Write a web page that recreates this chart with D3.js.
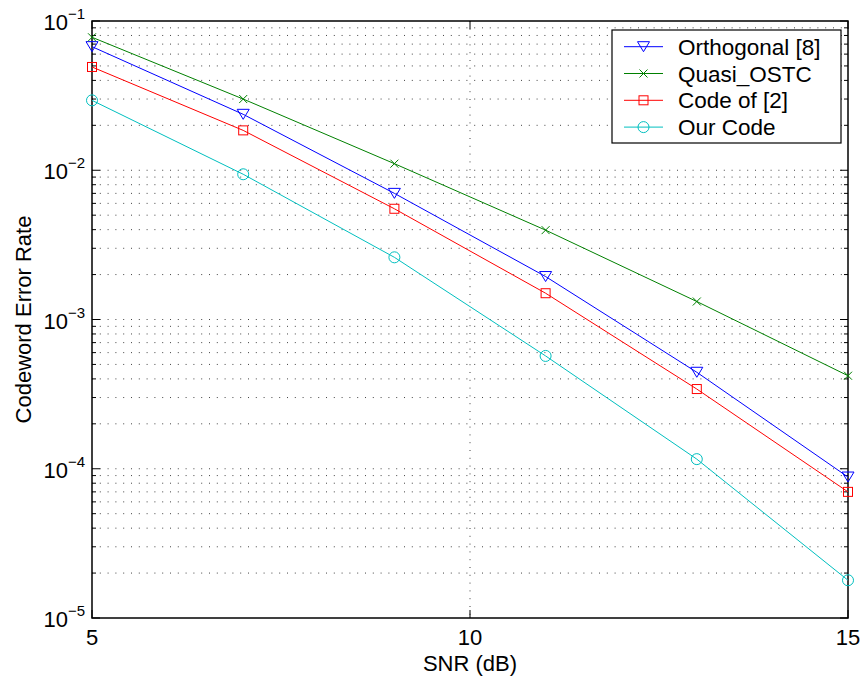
<!DOCTYPE html>
<html><head><meta charset="utf-8">
<script src="https://cdn.jsdelivr.net/npm/d3@7"></script>
<style>body{margin:0;background:#fff}text{font-family:"Liberation Sans",Arial,Helvetica,sans-serif}</style>
</head><body>
<svg id="c" width="865" height="690"></svg>
<script>
const snr = [5, 7, 9, 11, 13, 15];
const orthogonal = [0.0673, 0.0237, 0.0070, 0.00194, 4.43e-4, 8.8e-5];
const quasiOSTC = [0.0778, 0.0300, 0.01107, 0.00397, 1.32e-3, 4.2e-4];
const codeOf2 = [0.0492, 0.0185, 0.00552, 0.00150, 3.42e-4, 7.0e-5];
const ourCode = [0.0294, 0.0094, 0.00261, 5.7e-4, 1.16e-4, 1.79e-5];
const seriesNames = ["Orthogonal [8]", "Quasi_OSTC", "Code of [2]", "Our Code"];
const seriesColors = ["#0000ff", "#008000", "#ff0000", "#00bfbf"];
const seriesMarkers = ["tri", "x", "sq", "circ"];
const xTicks = [5, 10, 15];
const yDecades = [-5, -4, -3, -2, -1];

const svg = d3.select("#c");
const L = 92, R = 848, T = 21, B = 618;
const x = d3.scaleLinear().domain([5, 15]).range([L, R]);
const y = d3.scaleLog().domain([1e-5, 1e-1]).range([B, T]);

// grid
const gridVals = [];
for (let e = -5; e <= -2; e++) for (let m = 1; m <= 9; m++) { const v = m * Math.pow(10, e); if (v > 1.0001e-5 && v < 0.0999) gridVals.push(v); }
const g = svg.append("g");
g.selectAll("line.hg").data(gridVals).join("line")
  .attr("x1", L).attr("x2", R).attr("y1", d => y(d)).attr("y2", d => y(d))
  .attr("stroke", "#444").attr("stroke-width", 1).attr("stroke-dasharray", "1 6.8");
g.selectAll("line.vg").data([10]).join("line")
  .attr("x1", d => x(d)).attr("x2", d => x(d)).attr("y1", T).attr("y2", B)
  .attr("stroke", "#444").attr("stroke-width", 1).attr("stroke-dasharray", "1 6.8");

// ticks inward
const minorVals = [];
for (let e = -5; e < -1; e++) for (let m = 2; m <= 9; m++) minorVals.push(m * Math.pow(10, e));
const majorVals = yDecades.map(e => Math.pow(10, e));
const tk = svg.append("g").attr("stroke", "#000").attr("stroke-width", 1);
[[L, 1], [R, -1]].forEach(([x0, s]) => {
  tk.selectAll(null).data(minorVals).join("line").attr("x1", x0).attr("x2", x0 + s * 4).attr("y1", d => y(d)).attr("y2", d => y(d));
  tk.selectAll(null).data(majorVals).join("line").attr("x1", x0).attr("x2", x0 + s * 8).attr("y1", d => y(d)).attr("y2", d => y(d));
});
[[B, -1], [T, 1]].forEach(([y0, s]) => {
  tk.selectAll(null).data(xTicks).join("line").attr("x1", d => x(d)).attr("x2", d => x(d)).attr("y1", y0).attr("y2", y0 + s * 8);
});

// frame
svg.append("rect").attr("x", L).attr("y", T).attr("width", R - L).attr("height", B - T)
  .attr("fill", "none").attr("stroke", "#000").attr("stroke-width", 1.5);

// tick labels
svg.selectAll("text.xt").data(xTicks).join("text")
  .attr("x", d => x(d)).attr("y", 645).attr("text-anchor", "middle").attr("font-size", 22).text(d => d);
const yl = svg.selectAll("text.yt").data(yDecades).join("text")
  .attr("x", 85).attr("y", d => y(Math.pow(10, d)) + 9).attr("text-anchor", "end").attr("font-size", 22);
yl.append("tspan").text("10");
yl.append("tspan").attr("dy", -11).attr("font-size", 15).text(d => "\u2212" + (-d));

// axis titles
svg.append("text").attr("x", (L + R) / 2).attr("y", 671).attr("text-anchor", "middle").attr("font-size", 22).text("SNR (dB)");
svg.append("text").attr("transform", `translate(31,${(T + B) / 2}) rotate(-90)`).attr("text-anchor", "middle").attr("font-size", 22).text("Codeword Error Rate");

// markers
function marker(sel, type, color) {
  if (type === "tri") sel.append("path").attr("d", "M-6,-5L6,-5L0,5Z").attr("fill", "none").attr("stroke", color);
  else if (type === "x") sel.append("path").attr("d", "M-4,-4L4,4M-4,4L4,-4").attr("stroke", color);
  else if (type === "sq") sel.append("rect").attr("x", -4.5).attr("y", -4.5).attr("width", 9).attr("height", 9).attr("fill", "none").attr("stroke", color);
  else sel.append("circle").attr("r", 5.5).attr("fill", "none").attr("stroke", color);
}
const data = [orthogonal, quasiOSTC, codeOf2, ourCode];
const line = d3.line().x((d, i) => x(snr[i])).y(d => y(d));
data.forEach((vals, k) => {
  svg.append("path").attr("d", line(vals)).attr("fill", "none").attr("stroke", seriesColors[k]).attr("stroke-width", 1);
  vals.forEach((v, i) => {
    const m = svg.append("g").attr("transform", `translate(${x(snr[i])},${y(v)})`);
    marker(m, seriesMarkers[k], seriesColors[k]);
  });
});

// legend
const lg = svg.append("g");
lg.append("rect").attr("x", 612).attr("y", 30).attr("width", 229).attr("height", 113)
  .attr("fill", "#fff").attr("stroke", "#000").attr("stroke-width", 1.2);
seriesNames.forEach((n, k) => {
  const yy = 46.7 + k * 26.8;
  lg.append("line").attr("x1", 624).attr("x2", 663).attr("y1", yy).attr("y2", yy).attr("stroke", seriesColors[k]);
  marker(lg.append("g").attr("transform", `translate(643.5,${yy})`), seriesMarkers[k], seriesColors[k]);
  lg.append("text").attr("x", 678).attr("y", yy + 8).attr("font-size", 22.5).text(n);
});
</script>
</body></html>
